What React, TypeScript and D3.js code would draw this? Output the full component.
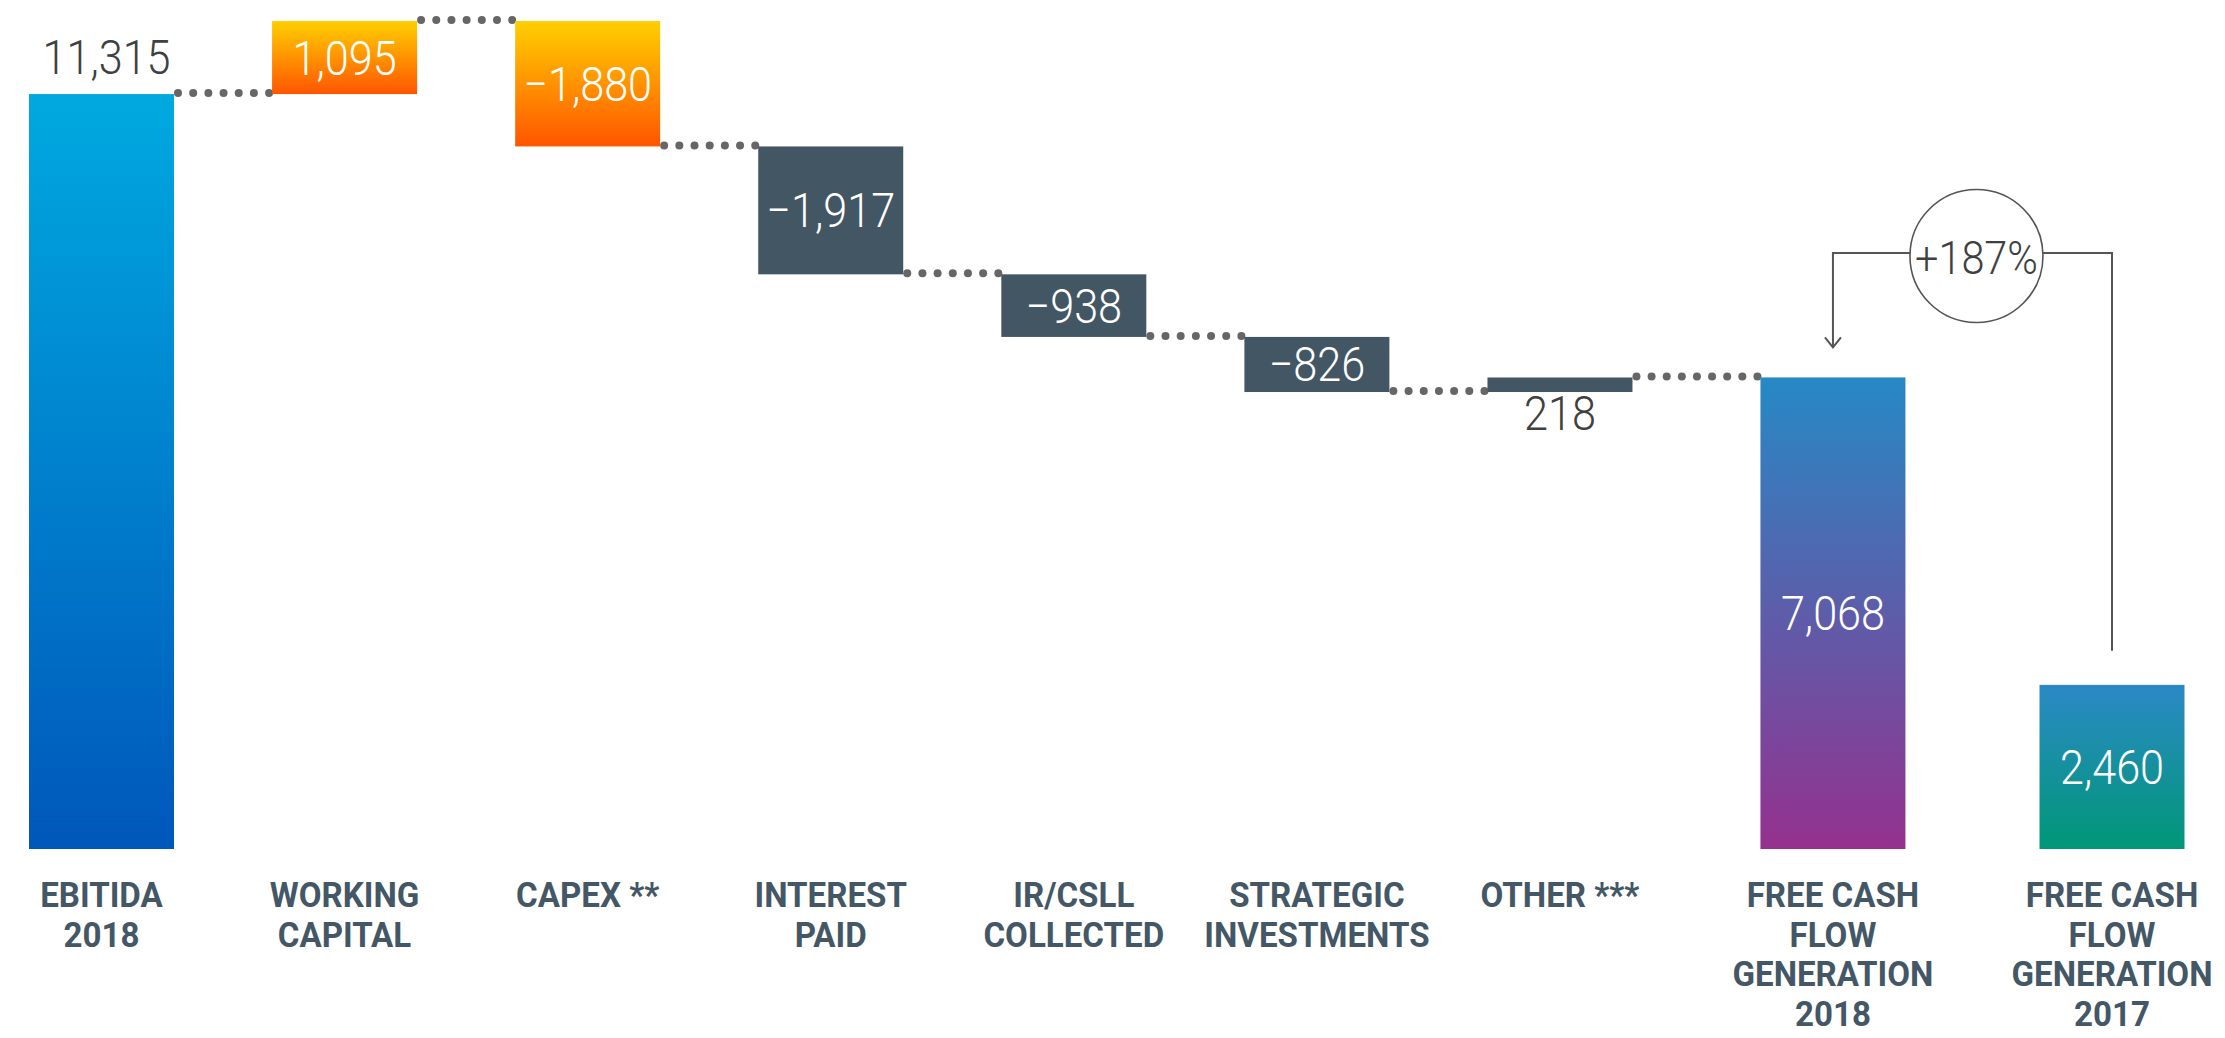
import React from "react";
import * as d3 from "d3";

// ---------- data ----------
const categories: string[][] = [
  ["EBITIDA", "2018"],
  ["WORKING", "CAPITAL"],
  ["CAPEX **"],
  ["INTEREST", "PAID"],
  ["IR/CSLL", "COLLECTED"],
  ["STRATEGIC", "INVESTMENTS"],
  ["OTHER ***"],
  ["FREE CASH", "FLOW", "GENERATION", "2018"],
  ["FREE CASH", "FLOW", "GENERATION", "2017"],
];
const values: number[] = [11315, 1095, -1880, -1917, -938, -826, 218, 7068, 2460];
// "total" bars start from zero, "delta" bars float on the running total
const kinds: string[] = ["total", "delta", "delta", "delta", "delta", "delta", "delta", "total", "compare"];
const fillKeys: string[] = ["ebitda", "orange", "orange", "slate", "slate", "slate", "slate", "fcf2018", "fcf2017"];

// ---------- layout / style ----------
const W = 2225;
const H = 1038;
const BASE_Y = 849;
const TOP_Y = 21;
const FIRST_X = 101.5;
const LAST_X = 2112;
const BAR_W = 145;
const TOTAL_GAP = 0.123; // extra slot gap before the totals
const COMPARE_GAP = 0.148; // extra slot gap before the comparison bar
const DOT_COLOR = "#666666";
const SLATE = "#435664";
const LABEL_COLOR = "#435766";
const TEXT_DARK = "#404040";

const gradients: Record<string, [string, string]> = {
  ebitda: ["#00a9e0", "#0057ba"],
  orange: ["#ffd000", "#ff5500"],
  fcf2018: ["#2689c5", "#94318e"],
  fcf2017: ["#2b89c6", "#009777"],
};

const fmt = d3.format(",");

export default function App() {
  // running totals
  let running = 0;
  const bars = values.map((v, i) => {
    let start: number, end: number;
    if (kinds[i] === "delta") {
      start = running;
      end = running + v;
      running = end;
    } else {
      start = 0;
      end = v;
      if (kinds[i] === "total") running = v;
    }
    const slot = i + (i >= 7 ? TOTAL_GAP : 0) + (i >= 8 ? COMPARE_GAP : 0);
    return { i, v, start, end, slot, kind: kinds[i], lines: categories[i], fill: fillKeys[i] };
  });

  const maxLevel = d3.max(bars, (b) => Math.max(b.start, b.end)) as number;
  const y = d3.scaleLinear().domain([0, maxLevel]).range([BASE_Y, TOP_Y]);
  const maxSlot = bars[bars.length - 1].slot;
  const x = d3.scaleLinear().domain([0, maxSlot]).range([FIRST_X, LAST_X]);

  // dotted connectors
  const connectors: { x1: number; x2: number; yv: number }[] = [];
  for (let k = 0; k < bars.length - 1; k++) {
    const a = bars[k];
    const b = bars[k + 1];
    if (b.kind === "compare") continue;
    const level = b.kind === "total" ? b.end : b.start;
    connectors.push({ x1: x(a.slot) + BAR_W / 2, x2: x(b.slot) - BAR_W / 2, yv: y(level) });
  }

  const fcf18 = bars[7];
  const fcf17 = bars[8];
  const pct = Math.round((fcf18.v / fcf17.v - 1) * 100);
  const xa = x(fcf18.slot);
  const xb = x(fcf17.slot);
  const lineY = 253;
  const cx = (xa + xb) / 2 + 4;
  const r = 66.5;

  return (
    <svg
      width={W}
      height={H}
      style={{ position: "absolute", left: 0, top: 0, display: "block", background: "#ffffff" }}
    >
      <defs>
        {Object.entries(gradients).map(([k, [c0, c1]]) => (
          <linearGradient key={k} id={`g-${k}`} x1="0" y1="0" x2="0" y2="1">
            <stop offset="0%" stopColor={c0} />
            <stop offset="100%" stopColor={c1} />
          </linearGradient>
        ))}
      </defs>

      {/* connectors */}
      {connectors.map((c, k) => {
        const x1 = c.x1 + 4;
        const x2 = c.x2 - 3;
        const n = Math.max(2, Math.round((x2 - x1) / 15.5) + 1);
        const xs = d3.range(n).map((j) => x1 + ((x2 - x1) * j) / (n - 1));
        return (
          <g key={k}>
            {xs.map((xx, j) => (
              <circle key={j} cx={xx} cy={c.yv - 1} r={4} fill={DOT_COLOR} />
            ))}
          </g>
        );
      })}

      {/* bars */}
      {bars.map((b) => {
        const top = y(Math.max(b.start, b.end));
        const bot = y(Math.min(b.start, b.end));
        const fill = b.fill === "slate" ? SLATE : `url(#g-${b.fill})`;
        return (
          <rect key={b.i} x={x(b.slot) - BAR_W / 2} y={top} width={BAR_W} height={bot - top} fill={fill} />
        );
      })}

      {/* value labels */}
      {bars.map((b) => {
        const top = y(Math.max(b.start, b.end));
        const bot = y(Math.min(b.start, b.end));
        const cxx = x(b.slot) + (b.i === 0 ? 5 : 0);
        let ty: number;
        let color = "#ffffff";
        if (b.i === 0) {
          ty = top - 20;
          color = TEXT_DARK;
        } else if (bot - top < 40) {
          ty = bot + 38;
          color = TEXT_DARK;
        } else {
          ty = (top + bot) / 2 + 17;
        }
        return (
          <text
            key={b.i}
            transform={`translate(${cxx},${ty}) scale(0.9,1)`}
            textAnchor="middle"
            fontFamily="Roboto, 'Open Sans', sans-serif"
            fontWeight={300}
            fontSize={48}
            fill={color}
          >
            {fmt(b.v)}
          </text>
        );
      })}

      {/* category labels */}
      {bars.map((b) => (
        <g key={b.i} transform={`translate(${x(b.slot)},0)`}>
          {b.lines.map((ln, j) => (
            <text
              key={j}
              transform={`translate(0,${907 + j * 39.5}) scale(0.92,1)`}
              textAnchor="middle"
              fontFamily="Roboto, 'Open Sans', sans-serif"
              fontWeight={700}
              fontSize={36}
              fill={LABEL_COLOR}
            >
              {ln}
            </text>
          ))}
        </g>
      ))}

      {/* comparison annotation */}
      <g fill="none" stroke="#555555" strokeWidth={2}>
        <path d={`M${xb},${y(fcf17.v) - 34}V${lineY}H${cx + r}`} />
        <path d={`M${cx - r},${lineY}H${xa}V${y(fcf18.v) - 30}`} />
        <path d={`M${xa - 8},${y(fcf18.v) - 40}L${xa},${y(fcf18.v) - 30}L${xa + 8},${y(fcf18.v) - 40}`} />
        <circle cx={cx} cy={lineY + 3} r={r} strokeWidth={1.6} />
      </g>
      <text
        transform={`translate(${cx},${lineY + 21}) scale(0.9,1)`}
        textAnchor="middle"
        fontFamily="Roboto, 'Open Sans', sans-serif"
        fontWeight={300}
        fontSize={46}
        fill={TEXT_DARK}
      >
        {`+${pct}%`}
      </text>
    </svg>
  );
}
